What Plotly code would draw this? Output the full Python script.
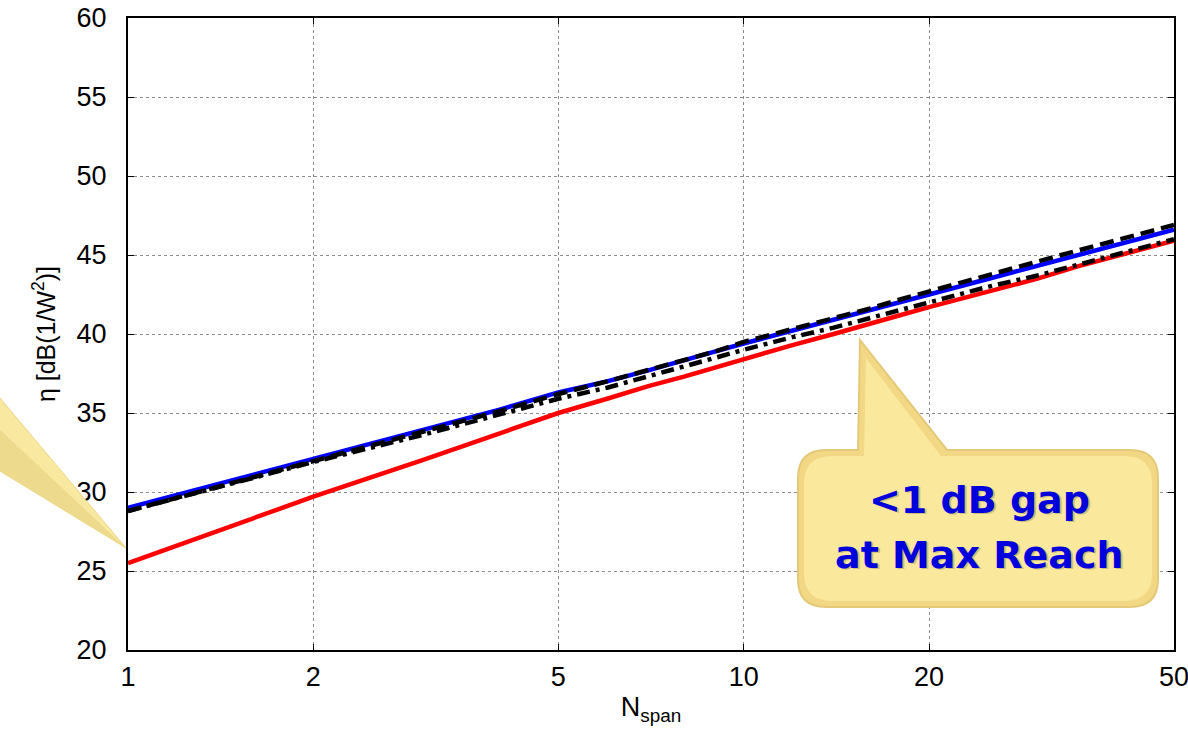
import plotly.graph_objects as go

n_span = [1, 2, 3, 4, 5, 6, 7, 8, 9, 10, 12, 14, 16, 18, 20, 25, 30, 35, 40, 45, 50]
eta_blue = [29.0, 32.1, 33.9, 35.2, 36.3, 37.0, 37.7, 38.3, 38.9, 39.4, 40.2, 40.9, 41.5, 42.0, 42.5, 43.5, 44.3, 45.0, 45.6, 46.1, 46.6]
eta_red = [25.5, 29.7, 32.0, 33.7, 35.0, 35.9, 36.7, 37.3, 37.9, 38.4, 39.3, 40.0, 40.6, 41.2, 41.7, 42.7, 43.5, 44.3, 44.9, 45.4, 45.9]
eta_dash = [28.8, 32.0, 33.8, 35.1, 36.2, 37.0, 37.7, 38.3, 38.9, 39.5, 40.3, 41.0, 41.6, 42.2, 42.7, 43.7, 44.6, 45.3, 45.9, 46.4, 46.9]
eta_dashdot = [28.8, 31.9, 33.6, 34.9, 35.9, 36.6, 37.3, 37.9, 38.5, 39.0, 39.8, 40.4, 41.0, 41.5, 42.0, 43.0, 43.7, 44.4, 45.0, 45.5, 46.0]

x_ticks = [1, 2, 5, 10, 20, 50]
y_ticks = [20, 25, 30, 35, 40, 45, 50, 55, 60]

fig = go.Figure()
fig.add_trace(go.Scatter(x=n_span, y=eta_red, mode="lines",
                         line=dict(color="#FF0000", width=4.5)))
fig.add_trace(go.Scatter(x=n_span, y=eta_blue, mode="lines",
                         line=dict(color="#0000FF", width=4.5)))
fig.add_trace(go.Scatter(x=n_span, y=eta_dashdot, mode="lines",
                         line=dict(color="#000000", width=4.5, dash="13px,6px,4px,6px")))
fig.add_trace(go.Scatter(x=n_span, y=eta_dash, mode="lines",
                         line=dict(color="#000000", width=4.5, dash="14px,7px")))

L, R, T, B = 128, 1174, 18, 650
W, H = 1188, 736


def px(xp):
    return (xp - L) / (R - L)


def py(yp):
    return (B - yp) / (B - T)


# left callout pointer (its box lies outside the view)
left_tri = "M {:.4f},{:.4f} L {:.4f},{:.4f} L {:.4f},{:.4f} Z".format(
    px(-5), py(392), px(126), py(548), px(-5), py(468))
fig.add_shape(type="path", path=left_tri, xref="paper", yref="paper",
              fillcolor="rgb(248,232,160)", line=dict(color="rgb(236,214,135)", width=1),
              layer="above")
left_tri2 = "M {:.4f},{:.4f} L {:.4f},{:.4f} L {:.4f},{:.4f} Z".format(
    px(-5), py(425), px(126), py(548), px(-5), py(468))
fig.add_shape(type="path", path=left_tri2, xref="paper", yref="paper",
              fillcolor="rgb(238,218,140)", line=dict(width=0), layer="above")

# right callout: rounded box with pointer
bx0, bx1, by0, by1, r = 798, 1158, 450, 607, 28
tip = (860, 340)
pb0, pb1 = 858, 947


def box_path(dx=0, dy=0, inset=0):
    x0, x1, y0, y1 = bx0 + inset + dx, bx1 - inset + dx, by0 + inset + dy, by1 - inset + dy
    pts = []
    pts.append("M {:.4f},{:.4f}".format(px(x0 + r), py(y0)))
    pts.append("L {:.4f},{:.4f}".format(px(pb0 + dx + inset), py(y0)))
    pts.append("L {:.4f},{:.4f}".format(px(tip[0] + dx + inset), py(tip[1] + dy + 3 * inset)))
    pts.append("L {:.4f},{:.4f}".format(px(pb1 + dx - inset), py(y0)))
    pts.append("L {:.4f},{:.4f}".format(px(x1 - r), py(y0)))
    pts.append("Q {:.4f},{:.4f} {:.4f},{:.4f}".format(px(x1), py(y0), px(x1), py(y0 + r)))
    pts.append("L {:.4f},{:.4f}".format(px(x1), py(y1 - r)))
    pts.append("Q {:.4f},{:.4f} {:.4f},{:.4f}".format(px(x1), py(y1), px(x1 - r), py(y1)))
    pts.append("L {:.4f},{:.4f}".format(px(x0 + r), py(y1)))
    pts.append("Q {:.4f},{:.4f} {:.4f},{:.4f}".format(px(x0), py(y1), px(x0), py(y1 - r)))
    pts.append("L {:.4f},{:.4f}".format(px(x0), py(y0 + r)))
    pts.append("Q {:.4f},{:.4f} {:.4f},{:.4f}".format(px(x0), py(y0), px(x0 + r), py(y0)))
    pts.append("Z")
    return " ".join(pts)


fig.add_shape(type="path", path=box_path(), xref="paper", yref="paper",
              fillcolor="rgb(242,216,132)", line=dict(color="rgb(228,202,120)", width=2),
              layer="above")
fig.add_shape(type="path", path=box_path(inset=6), xref="paper", yref="paper",
              fillcolor="rgb(250,232,156)", line=dict(width=0),
              layer="above")

for label, ycen in [("<b>&lt;1 dB gap</b>", 500), ("<b>at Max Reach</b>", 555)]:
    fig.add_annotation(x=px(981), y=py(ycen + 1), xref="paper", yref="paper",
                       text=label, showarrow=False, xanchor="center", yanchor="middle",
                       font=dict(family="DejaVu Sans", size=38, color="rgba(120,110,60,0.35)"))
    fig.add_annotation(x=px(979), y=py(ycen), xref="paper", yref="paper",
                       text=label, showarrow=False, xanchor="center", yanchor="middle",
                       font=dict(family="DejaVu Sans", size=38, color="#0000DD"))

axis_common = dict(
    showline=True, linecolor="black", linewidth=2, mirror="allticks",
    ticks="inside", ticklen=6, tickcolor="black", tickwidth=1,
    showgrid=True, gridcolor="#8c8c8c", griddash="dot", gridwidth=1,
    zeroline=False, automargin=False, ticklabeloverflow="allow",
    tickfont=dict(family="Liberation Sans, Arial", size=27, color="black"),
)

fig.update_xaxes(type="log", range=[0, 1.69897], tickvals=x_ticks,
                 ticktext=[str(v) for v in x_ticks], ticklabelstandoff=2,
                 title=dict(text="N<sub>span</sub>", standoff=6,
                            font=dict(family="Liberation Sans, Arial", size=27, color="black")),
                 **axis_common)
fig.update_yaxes(range=[20, 60], tickvals=y_ticks, ticklabelstandoff=14,
                 title=dict(text="η [dB(1/W<sup>2</sup>)]", standoff=14,
                            font=dict(family="Liberation Sans, Arial", size=25, color="black")),
                 **axis_common)

fig.update_layout(
    width=W, height=H,
    margin=dict(l=L, r=W - R, t=T, b=H - B),
    plot_bgcolor="white", paper_bgcolor="white",
    showlegend=False,
)

fig.write_html("out.html", config={"displayModeBar": False},
               post_script="document.body.style.margin='0';document.body.style.overflow='hidden';"
                           "document.documentElement.style.overflow='hidden';")
